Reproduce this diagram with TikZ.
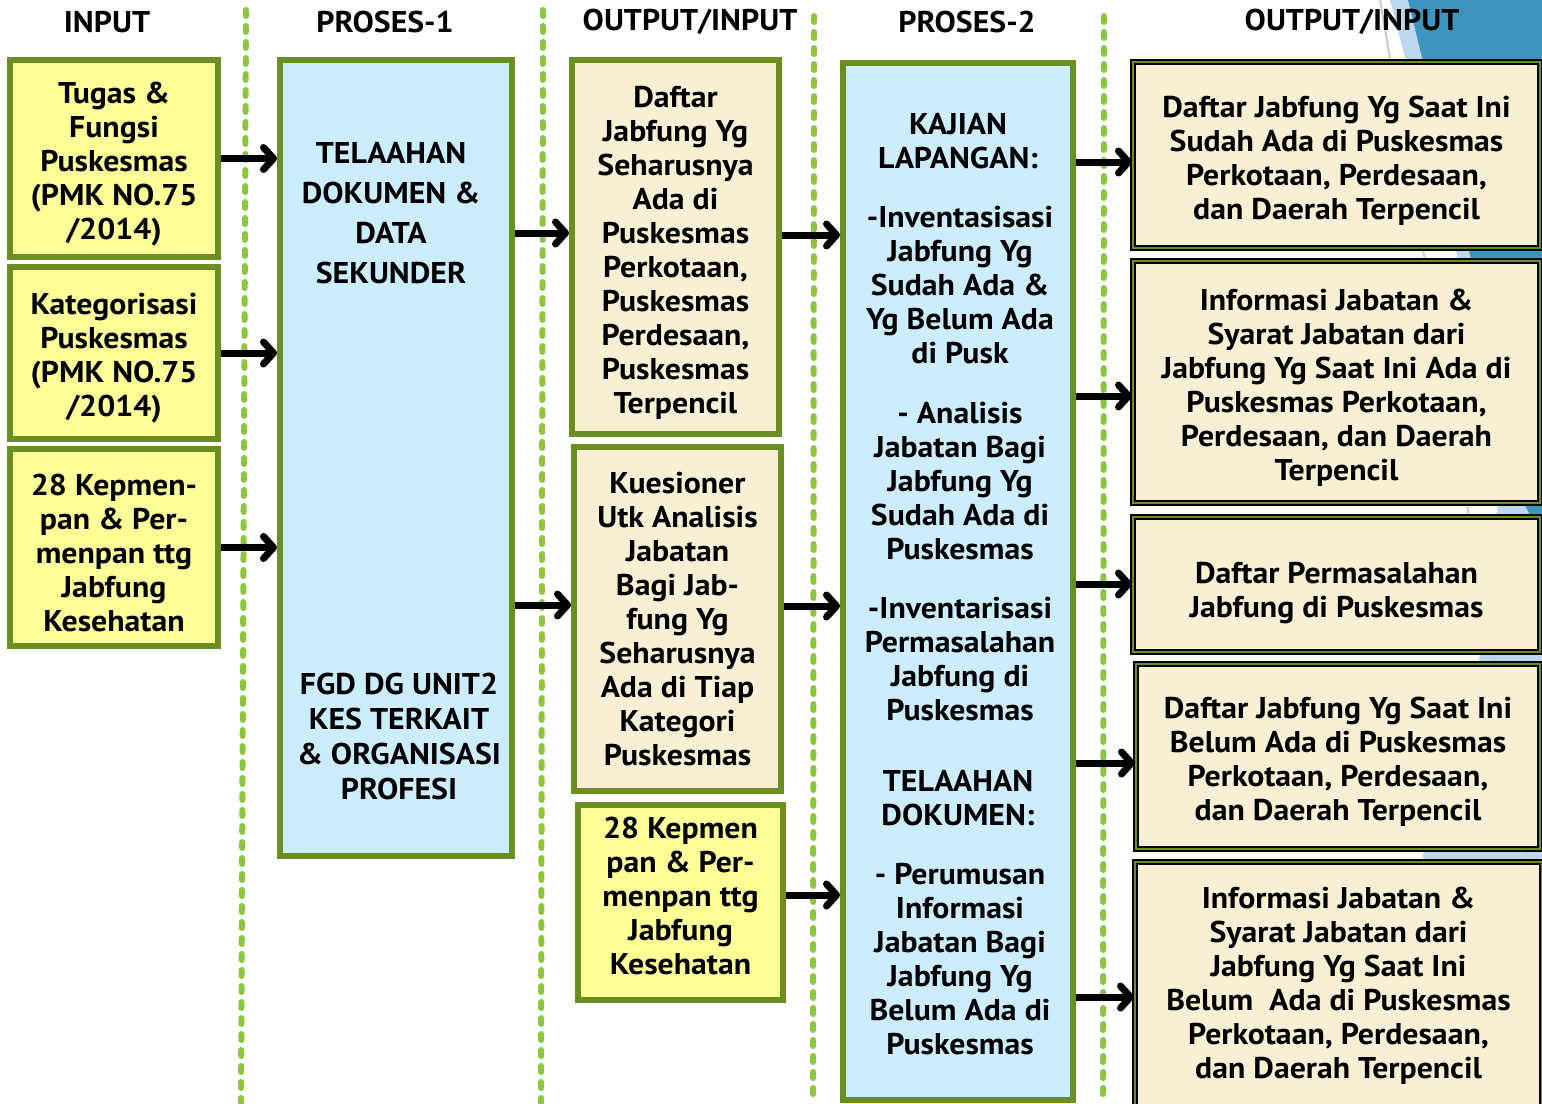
\documentclass[tikz,border=0pt]{standalone}
\usepackage{fontspec}
\setmainfont{PT Sans}[FakeStretch=1.06]
\usetikzlibrary{arrows.meta,positioning}

\definecolor{yelbox}{RGB}{255,255,153}
\definecolor{bluebox}{RGB}{204,236,255}
\definecolor{creambox}{RGB}{249,239,212}
\definecolor{olv}{RGB}{107,142,35}
\definecolor{dashg}{RGB}{140,198,63}
\definecolor{decodark}{RGB}{61,149,189}
\definecolor{decolight}{RGB}{189,215,238}

\newcommand{\padtop}[1][16pt]{\rule{0pt}{#1}}

\begin{document}
\begin{tikzpicture}[x=0.5pt, y=-0.5pt,
  box/.style={draw=olv, line width=3pt, align=center, inner sep=0pt, font=\bfseries\fontsize{15}{17}\selectfont},
  inbox/.style={box, fill=yelbox, minimum width=104pt},
  procbox/.style={box, fill=bluebox, minimum width=115pt},
  outbox/.style={box, fill=creambox, minimum width=103.5pt},
  resbox/.style={box, fill=creambox, draw=black, double=olv, line width=1pt, double distance=1pt, minimum width=203.5pt},
  txt/.style={align=center, inner sep=0pt, font=\bfseries\fontsize{15}{17}\selectfont},
  head/.style={inner sep=0pt, font=\bfseries\fontsize{15}{17}\selectfont},
  sepline/.style={draw=dashg, line width=3pt, line cap=round, dash pattern=on 3pt off 5pt},
  arr/.style={line width=3.5pt, -{Straight Barb[length=5pt,width=11pt,round]}}]

  \useasboundingbox (0,0) rectangle (1542,1103);
  \fill[white] (0,0) rectangle (1542,1103);

  % template decoration, top right
  \fill[decolight] (1390,0) -- (1542,0) -- (1542,1103) -- (1400,1103) -- (1423,855)
    -- (1480,655) -- (1498,505) -- (1457,255) -- cycle;
  \fill[decodark] (1408,0) -- (1542,0) -- (1542,540) -- (1525,505) -- (1470,255) -- cycle;
  \draw[gray!40, line width=1pt] (1380,0) -- (1530,870);

  % column separators
  \draw[sepline] (246,10) -- (241,1103);
  \draw[sepline] (543,10) -- (541,1103);
  \draw[sepline] (814,16) -- (813,1103);
  \draw[sepline] (1104,16) -- (1103,1103);

  % column headings
  \node[head] (hin) at (107,22) {INPUT};
  \node[head] (hp1) at (385,22) {PROSES-1};
  \node[head] (hio1) at (690,22) {OUTPUT/INPUT};
  \node[head] (hp2) at (967,22) {PROSES-2};
  \node[head] (hio2) at (1352,22) {OUTPUT/INPUT};

  % input
  \node[inbox, minimum height=98.5pt] (tugas) at (114,158.5)
    {\padtop Tugas \&\\Fungsi\\Puskesmas\\(PMK NO.75\\/2014)};
  \node[inbox, minimum height=86pt] (kategori) at (114,353)
    {\padtop Kategorisasi\\Puskesmas\\(PMK NO.75\\/2014)};
  \node[inbox, minimum height=98.5pt] (kepmen1) at (114,547.5)
    {\padtop 28 Kepmen-\\pan \& Per-\\menpan ttg\\Jabfung\\Kesehatan};

  % proses-1
  \node[procbox, minimum width=116pt, minimum height=398pt] (proses1) at (396,458) {};
  \node[txt, font=\bfseries\fontsize{15}{20}\selectfont] (telaah1) at (391,213)
    {TELAAHAN\\DOKUMEN \&\\DATA\\SEKUNDER};
  \node[txt, font=\bfseries\fontsize{15}{17.5}\selectfont] (fgd) at (399,736)
    {FGD DG UNIT2\\KES TERKAIT\\\& ORGANISASI\\PROFESI};

  % output/input
  \node[outbox, minimum height=187pt] (daftar) at (675.5,247)
    {\padtop Daftar\\Jabfung Yg\\Seharusnya\\Ada di\\Puskesmas\\Perkotaan,\\Puskesmas\\Perdesaan,\\Puskesmas\\Terpencil};
  \node[outbox, minimum height=172pt] (kuesioner) at (677.5,619)
    {Kuesioner\\Utk Analisis\\Jabatan\\Bagi Jab-\\fung Yg\\Seharusnya\\Ada di Tiap\\Kategori\\Puskesmas};
  \node[inbox, minimum width=102.5pt, minimum height=97.5pt] (kepmen2) at (680.5,902.5)
    {28 Kepmen\\pan \& Per-\\menpan ttg\\Jabfung\\Kesehatan\rule[-7pt]{0pt}{0pt}};

  % proses-2
  \node[procbox, minimum height=518.5pt] (proses2) at (958,581.5) {};
  \node[txt] (kajian) at (958,141) {KAJIAN\\LAPANGAN:};
  \node[txt] (invent) at (960,285) {-Inventasisasi\\Jabfung Yg\\Sudah Ada \&\\Yg Belum Ada\\di Pusk};
  \node[txt] (analisis) at (960,481) {- Analisis\\Jabatan Bagi\\Jabfung Yg\\Sudah Ada di\\Puskesmas};
  \node[txt] (masalah) at (960,659.5) {-Inventarisasi\\Permasalahan\\Jabfung di\\Puskesmas};
  \node[txt] (telaah2) at (958,798) {TELAAHAN\\DOKUMEN:};
  \node[txt] (rumus) at (960,959.5) {- Perumusan\\Informasi\\Jabatan Bagi\\Jabfung Yg\\Belum Ada di\\Puskesmas};

  % output/input (hasil)
  \node[resbox, minimum height=93pt] (r1) at (1336.5,155)
    {\padtop Daftar Jabfung Yg Saat Ini\\Sudah Ada di Puskesmas\\Perkotaan, Perdesaan,\\dan Daerah Terpencil};
  \node[resbox, minimum height=121pt] (r2) at (1336.5,382)
    {\padtop Informasi Jabatan \&\\Syarat Jabatan dari\\Jabfung Yg Saat Ini Ada di\\Puskesmas Perkotaan,\\Perdesaan, dan Daerah\\Terpencil};
  \node[resbox, minimum height=67.5pt] (r3) at (1336.5,584.5)
    {\padtop[19pt]Daftar Permasalahan\\Jabfung di Puskesmas};
  \node[resbox, minimum width=202pt, minimum height=92.5pt] (r4) at (1338,756.5)
    {\padtop Daftar Jabfung Yg Saat Ini\\Belum Ada di Puskesmas\\Perkotaan, Perdesaan,\\dan Daerah Terpencil};
  \node[resbox, minimum height=124pt] (r5) at (1338.5,986)
    {Informasi Jabatan \&\\Syarat Jabatan dari\\Jabfung Yg Saat Ini\\Belum\ \ Ada di Puskesmas\\Perkotaan, Perdesaan,\\dan Daerah Terpencil};

  % arrows
  \draw[arr] (tugas.east) -- (tugas.east -| proses1.west);
  \draw[arr] (kategori.east) -- (kategori.east -| proses1.west);
  \draw[arr] (kepmen1.east) -- (kepmen1.east -| proses1.west);
  \draw[arr] (proses1.east |- 0,233) -- (daftar.west |- 0,233);
  \draw[arr] (proses1.east |- 0,605) -- (kuesioner.west |- 0,605);
  \draw[arr] (daftar.east |- 0,235) -- (proses2.west |- 0,235);
  \draw[arr] (kuesioner.east |- 0,606) -- (proses2.west |- 0,606);
  \draw[arr] (kepmen2.east |- 0,895) -- (proses2.west |- 0,895);
  \draw[arr] (proses2.east |- 0,162) -- (r1.west |- 0,162);
  \draw[arr] (proses2.east |- 0,396) -- (r2.west |- 0,396);
  \draw[arr] (proses2.east |- 0,584) -- (r3.west |- 0,584);
  \draw[arr] (proses2.east |- 0,763) -- (r4.west |- 0,763);
  \draw[arr] (proses2.east |- 0,997) -- (r5.west |- 0,997);

\end{tikzpicture}
\end{document}
